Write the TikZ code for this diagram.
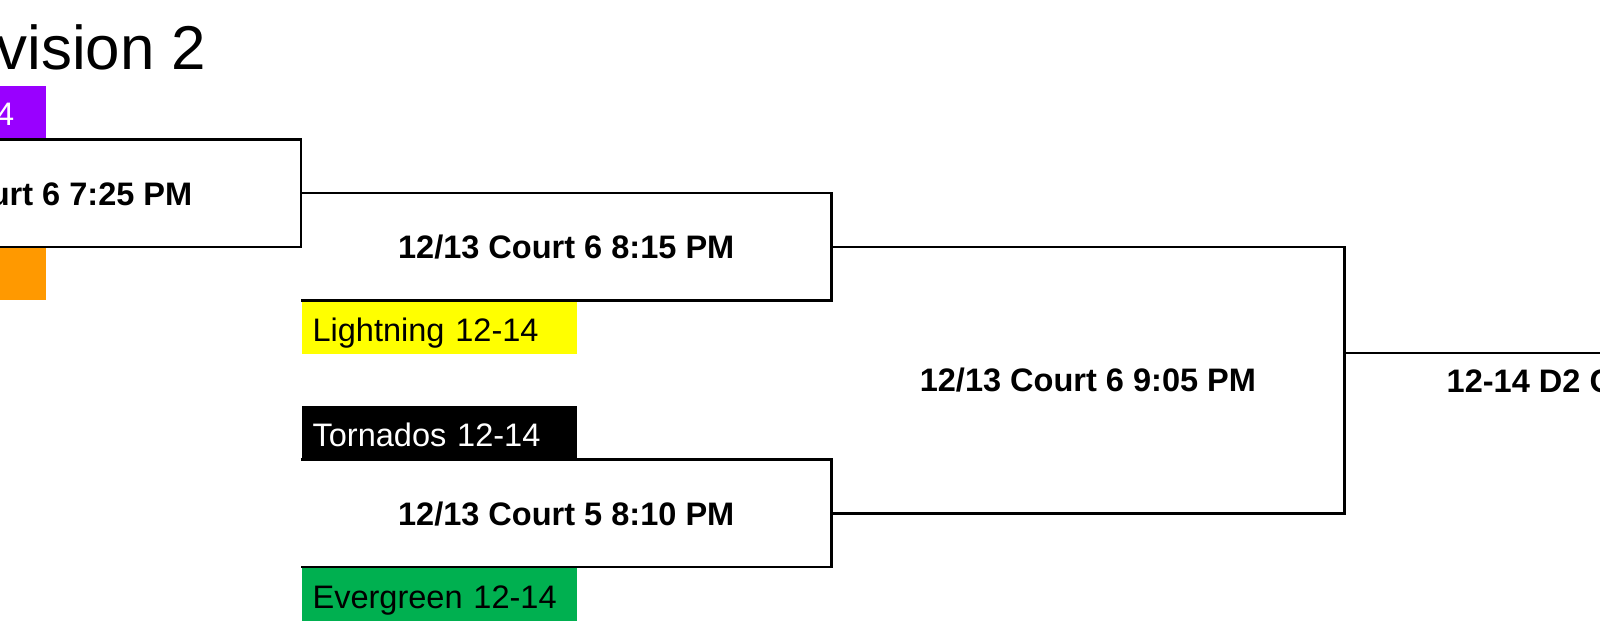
\documentclass[tikz,border=0pt]{standalone}
\usepackage{fontspec}
\setmainfont{Liberation Sans}
\usetikzlibrary{positioning}
\definecolor{teampurple}{HTML}{9900FF}
\definecolor{teamorange}{HTML}{FF9900}
\definecolor{teamyellow}{HTML}{FFFF00}
\definecolor{teamgreen}{HTML}{00B050}

\begin{document}
\begin{tikzpicture}[x=0.01cm, y=-0.01cm]
      \tikzstyle{game}=[rectangle, minimum width=5.29cm, minimum height=1.06cm, inner sep=0pt, text depth=0pt, font=\fontsize{9.25}{11}\bfseries\selectfont]
      \tikzstyle{team}=[rectangle, minimum height=0.53cm, inner xsep=0.11cm, inner ysep=0pt, text width=2.53cm, align=left, text height=0.275cm, text depth=0pt, font=\fontsize{9.25}{11}\selectfont]
      \tikzstyle{cut}=[inner sep=0pt, text depth=0pt]
      \tikzstyle{bracket}=[line width=0.7pt]

      \useasboundingbox (0,0) rectangle (1600,623);
      \clip (0,0) rectangle (1600,623);

      \node[cut, anchor=base east, font=\fontsize{17.6}{20}\selectfont] (title) at (207,69) {vision 2};

      \node[game] (g1) at (35.5,193) {};
      \node[game, anchor=north west] (g2) at (g1.east) {12/13 Court 6 8:15 PM};
      \node[game, below=1.59cm of g2.south west, anchor=north west] (g3) {12/13 Court 5 8:10 PM};
      \node[game, anchor=north west, minimum width=5.11cm, minimum height=2.65cm] (g4) at (g2.east) {12/13 Court 6 9:05 PM};

      \node[team, fill=teampurple, anchor=south west] (purple) at (g1.north west) {};
      \node[team, fill=teamorange, anchor=north west] (orange) at (g1.south west) {};
      \node[team, fill=teamyellow, anchor=north west] (lightning) at (g2.south west) {Lightning 12-14};
      \node[team, fill=black, text=white, anchor=south west] (tornados) at (g3.north west) {Tornados 12-14};
      \node[team, fill=teamgreen, anchor=north west] (evergreen) at (g3.south west) {Evergreen 12-14};

      \node[cut, anchor=east, text=white, font=\fontsize{9.25}{11}\selectfont] (purpletxt) at (15,114.5) {4};
      \node[cut, anchor=east, font=\fontsize{9.25}{11}\bfseries\selectfont] (g1txt) at (193,194) {urt 6 7:25 PM};
      \node[cut, anchor=west, font=\fontsize{9.25}{11}\bfseries\selectfont] (champtxt) at (1446,381) {12-14 D2 C};

      \draw[bracket] (g1.north west) -- (g1.north east) -- (g1.south east) -- (g1.south west);
      \draw[bracket] (g2.north west) -- (g2.north east) -- (g2.south east) -- (g2.south west);
      \draw[bracket] (g3.north west) -- (g3.north east) -- (g3.south east) -- (g3.south west);
      \draw[bracket] (g4.north west) -- (g4.north east) -- (g4.south east) -- (g4.south west);

      \coordinate (champ) at (1620,353);
      \draw[bracket] (g4.east |- champ) -- (champ);
    \end{tikzpicture}
\end{document}
